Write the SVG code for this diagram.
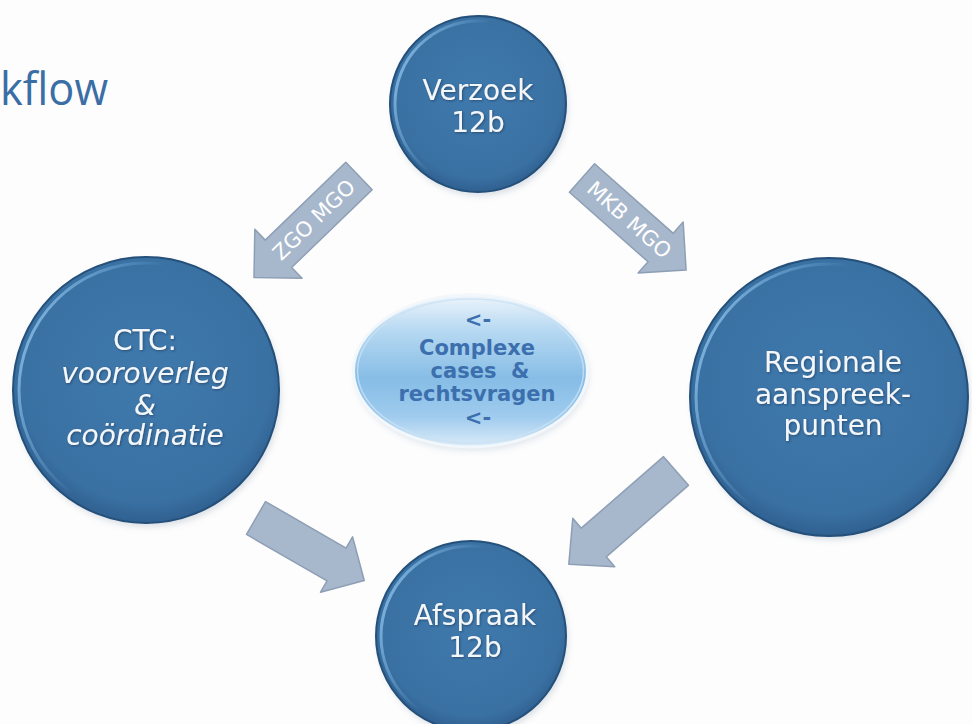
<svg xmlns="http://www.w3.org/2000/svg" width="972" height="724" viewBox="0 0 972 724">
  <defs>
    <radialGradient id="discFill" cx="50%" cy="45%" r="55%">
      <stop offset="0" stop-color="#3f79ac"/>
      <stop offset="0.85" stop-color="#3a71a3"/>
      <stop offset="1" stop-color="#2f6090"/>
    </radialGradient>
    <linearGradient id="discGlint" x1="0" y1="0" x2="1" y2="0.4">
      <stop offset="0" stop-color="#9fd2f5" stop-opacity="0.95"/>
      <stop offset="0.3" stop-color="#7fb9e6" stop-opacity="0.45"/>
      <stop offset="0.5" stop-color="#7fb9e6" stop-opacity="0"/>
    </linearGradient>
    <linearGradient id="bubbleFill" x1="0" y1="0" x2="0" y2="1">
      <stop offset="0" stop-color="#eef5fb"/>
      <stop offset="0.22" stop-color="#b9daf2"/>
      <stop offset="0.55" stop-color="#86bde6"/>
      <stop offset="0.8" stop-color="#9fcbee"/>
      <stop offset="1" stop-color="#dcecf8"/>
    </linearGradient>
    <filter id="soft" x="-10%" y="-10%" width="120%" height="120%">
      <feGaussianBlur stdDeviation="3"/>
    </filter>
    <filter id="txtShadow" x="-10%" y="-20%" width="120%" height="140%">
      <feDropShadow dx="1" dy="1" stdDeviation="0.8" flood-color="#1a3550" flood-opacity="0.6"/>
    </filter>
  </defs>
  <style>
    .disc { fill: url(#discFill); stroke: #24507a; stroke-width: 2; }
    .glint { fill: none; stroke: url(#discGlint); stroke-width: 3; }
    .shade { fill: #9aa8b8; opacity: 0.35; filter: url(#soft); }
    .lbl { font-family: "DejaVu Sans", Verdana, sans-serif; font-size: 28px; fill: #f4f7fa; text-anchor: middle; filter: url(#txtShadow); }
    .it { font-style: italic; }
    .arrow { fill: #a7b7cc; stroke: #8e9fb5; stroke-width: 1.5; stroke-linejoin: round; }
    .alabel { font-family: "DejaVu Sans", Verdana, sans-serif; font-size: 21px; fill: #ffffff; text-anchor: middle; }
    .ctr { font-family: "DejaVu Sans", Verdana, sans-serif; font-weight: bold; font-size: 21px; fill: #3c6fad; text-anchor: middle; }
  </style>

  <rect width="972" height="724" fill="#fdfdfd"/>

  <!-- heading fragment -->
  <text x="0" y="105" font-family="'Open Sans', 'Liberation Sans', sans-serif" font-size="46" fill="#3b6ea5" textLength="108" lengthAdjust="spacingAndGlyphs">kflow</text>

  <!-- block arrows -->
  <g id="connectors">
    <g id="arrow-zgo">
      <path class="arrow" transform="translate(359,176) rotate(136)" d="M0,-19 H112 V-34 L146,0 L112,34 V19 H0 Z"/>
      <text class="alabel" transform="translate(314,220) rotate(-44)" y="7">ZGO MGO</text>
    </g>
    <g id="arrow-mkb">
      <path class="arrow" transform="translate(582,178) rotate(41.5)" d="M0,-19 H105 V-34 L139,0 L105,34 V19 H0 Z"/>
      <text class="alabel" transform="translate(629,220) rotate(41.5)" y="7">MKB MGO</text>
    </g>
    <g id="arrow-ctc-afspraak">
      <path class="arrow" transform="translate(256,518) rotate(30)" d="M0,-19 H93 V-32 L125,0 L93,32 V19 H0 Z"/>
    </g>
    <g id="arrow-regio-afspraak">
      <path class="arrow" transform="translate(676,471) rotate(139)" d="M0,-19 H109 V-32 L142,0 L109,32 V19 H0 Z"/>
    </g>
  </g>

  <!-- top disc -->
  <g id="verzoek">
    <circle class="shade" cx="480" cy="108" r="88"/>
    <circle class="disc" cx="478" cy="104" r="88"/>
    <circle class="glint" cx="478" cy="104" r="83"/>
    <text class="lbl" x="478" y="100">Verzoek</text>
    <text class="lbl" x="478" y="132">12b</text>
  </g>

  <!-- left disc -->
  <g id="ctc">
    <circle class="shade" cx="148" cy="394" r="133"/>
    <circle class="disc" cx="146" cy="390" r="133"/>
    <circle class="glint" cx="146" cy="390" r="127"/>
    <text class="lbl" x="145" y="350">CTC:</text>
    <text class="lbl it" x="145" y="383">vooroverleg</text>
    <text class="lbl it" x="145" y="415">&amp;</text>
    <text class="lbl it" x="145" y="445">coördinatie</text>
  </g>

  <!-- right disc -->
  <g id="regionaal">
    <circle class="shade" cx="831" cy="401" r="139"/>
    <circle class="disc" cx="829" cy="397" r="139"/>
    <circle class="glint" cx="829" cy="397" r="133"/>
    <text class="lbl" x="833" y="372">Regionale</text>
    <text class="lbl" x="833" y="404">aanspreek-</text>
    <text class="lbl" x="833" y="435">punten</text>
  </g>

  <!-- bottom disc -->
  <g id="afspraak">
    <circle class="shade" cx="473" cy="640" r="95"/>
    <circle class="disc" cx="471" cy="636" r="95"/>
    <circle class="glint" cx="471" cy="636" r="90"/>
    <text class="lbl" x="475" y="625">Afspraak</text>
    <text class="lbl" x="475" y="657">12b</text>
  </g>

  <!-- central bubble -->
  <g id="complexe-cases">
    <ellipse cx="472" cy="375" rx="117" ry="76" fill="#b8c6d4" opacity="0.4" filter="url(#soft)"/>
    <ellipse cx="470.5" cy="371" rx="117" ry="76" fill="url(#bubbleFill)" stroke="#f2f7fc" stroke-width="3"/>
    <ellipse cx="470.5" cy="371" rx="113" ry="72" fill="none" stroke="#c9e1f4" stroke-width="1.5" opacity="0.8"/>
    <text class="ctr" x="478" y="327" font-size="17">&lt;-</text>
    <text class="ctr" x="477" y="355">Complexe</text>
    <text class="ctr" x="480" y="378" xml:space="preserve">cases  &amp;</text>
    <text class="ctr" x="477" y="401">rechtsvragen</text>
    <text class="ctr" x="478" y="425" font-size="13" fill="#86acd2">&lt;-</text>
  </g>
</svg>
